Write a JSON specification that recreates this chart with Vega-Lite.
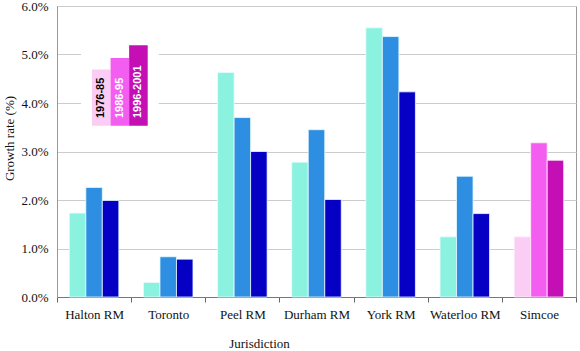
{
  "$schema": "https://vega.github.io/schema/vega-lite/v6.json",
  "width": 519,
  "height": 291,
  "autosize": "none",
  "padding": {"left": 57, "top": 6, "right": 4, "bottom": 54},
  "background": "white",
  "config": {
    "view": {"stroke": "#999999", "strokeWidth": 1},
    "axis": {
      "labelFont": "Liberation Serif, Times New Roman, serif",
      "labelFontSize": 13,
      "labelColor": "#111111",
      "titleFont": "Liberation Serif, Times New Roman, serif",
      "titleFontSize": 13,
      "titleFontWeight": "normal",
      "titleColor": "#111111"
    }
  },
  "datasets": {
    "growth": [
      {"jurisdiction": "Halton RM", "period": "1976-85", "rate": 1.73},
      {"jurisdiction": "Halton RM", "period": "1986-95", "rate": 2.26},
      {"jurisdiction": "Halton RM", "period": "1996-2001", "rate": 1.99},
      {"jurisdiction": "Toronto", "period": "1976-85", "rate": 0.30},
      {"jurisdiction": "Toronto", "period": "1986-95", "rate": 0.83},
      {"jurisdiction": "Toronto", "period": "1996-2001", "rate": 0.78},
      {"jurisdiction": "Peel RM", "period": "1976-85", "rate": 4.63},
      {"jurisdiction": "Peel RM", "period": "1986-95", "rate": 3.70},
      {"jurisdiction": "Peel RM", "period": "1996-2001", "rate": 3.00},
      {"jurisdiction": "Durham RM", "period": "1976-85", "rate": 2.78},
      {"jurisdiction": "Durham RM", "period": "1986-95", "rate": 3.45},
      {"jurisdiction": "Durham RM", "period": "1996-2001", "rate": 2.01},
      {"jurisdiction": "York RM", "period": "1976-85", "rate": 5.55},
      {"jurisdiction": "York RM", "period": "1986-95", "rate": 5.37},
      {"jurisdiction": "York RM", "period": "1996-2001", "rate": 4.23},
      {"jurisdiction": "Waterloo RM", "period": "1976-85", "rate": 1.24},
      {"jurisdiction": "Waterloo RM", "period": "1986-95", "rate": 2.49},
      {"jurisdiction": "Waterloo RM", "period": "1996-2001", "rate": 1.72},
      {"jurisdiction": "Simcoe", "period": "1976-85", "rate": 1.24},
      {"jurisdiction": "Simcoe", "period": "1986-95", "rate": 3.18},
      {"jurisdiction": "Simcoe", "period": "1996-2001", "rate": 2.82}
    ],
    "legend": [
      {"period": "1976-85", "top": 4.69},
      {"period": "1986-95", "top": 4.93},
      {"period": "1996-2001", "top": 5.19}
    ]
  },
  "layer": [
    {
      "data": {"name": "growth"},
      "encoding": {
        "x": {
          "field": "jurisdiction",
          "type": "nominal",
          "sort": null,
          "scale": {"domain": ["Halton RM", "Toronto", "Peel RM", "Durham RM", "York RM", "Waterloo RM", "Simcoe"], "paddingInner": 0, "paddingOuter": 0},
          "axis": {
            "title": "Jurisdiction",
            "labelAngle": 0,
            "labelPadding": 6,
            "tickBand": "extent",
            "tickSize": 5,
            "tickColor": "#666666",
            "domainColor": "#777777",
            "titleX": 202,
            "titleY": 50,
            "titleBaseline": "alphabetic",
            "titleAlign": "center",
            "titleAnchor": null
          }
        },
        "xOffset": {
          "field": "period",
          "type": "nominal",
          "scale": {"domain": ["1976-85", "1986-95", "1996-2001"], "paddingInner": 0, "paddingOuter": 0.745}
        },
        "y": {
          "field": "rate",
          "type": "quantitative",
          "scale": {"domain": [0, 6], "nice": false},
          "axis": {
            "title": "Growth rate (%)",
            "values": [0, 1, 2, 3, 4, 5, 6],
            "labelExpr": "format(datum.value, '.1f') + '%'",
            "labelPadding": 9,
            "ticks": false,
            "domainColor": "#999999",
            "gridColor": "#cccccc",
            "titleX": -48,
            "titleY": 132,
            "titleAngle": 270,
            "titleBaseline": "middle",
            "titleAlign": "center",
            "titleAnchor": null
          }
        }
      },
      "layer": [
        {
          "transform": [{"filter": "datum.jurisdiction != 'Simcoe'"}],
          "mark": {"type": "bar", "stroke": "#e6fbff", "strokeWidth": 0.8},
          "encoding": {
            "color": {
              "field": "period",
              "type": "nominal",
              "scale": {"domain": ["1976-85", "1986-95", "1996-2001"], "range": ["#8bf2e0", "#2e8ee2", "#0600c4"]},
              "legend": null
            }
          }
        },
        {
          "transform": [{"filter": "datum.jurisdiction == 'Simcoe'"}],
          "mark": {"type": "bar", "stroke": "#fff0fc", "strokeWidth": 0.8},
          "encoding": {
            "color": {
              "field": "period",
              "type": "nominal",
              "scale": {"domain": ["1976-85", "1986-95", "1996-2001"], "range": ["#fbcdf5", "#f45ef0", "#c30fb3"]},
              "legend": null
            }
          }
        }
      ],
      "resolve": {"scale": {"color": "independent"}}
    },
    {
      "data": {"name": "legend"},
      "encoding": {
        "x": {
          "field": "period",
          "type": "nominal",
          "sort": null,
          "scale": {"type": "band", "domain": ["1976-85", "1986-95", "1996-2001"], "range": [35, 90.7], "paddingInner": 0, "paddingOuter": 0},
          "axis": null
        }
      },
      "layer": [
        {
          "mark": {"type": "bar", "fill": "white", "stroke": "white", "strokeWidth": 22},
          "encoding": {
            "y": {"datum": 5.15, "type": "quantitative", "axis": null},
            "y2": {"datum": 3.62}
          }
        },
        {
          "mark": {"type": "bar"},
          "encoding": {
            "y": {"field": "top", "type": "quantitative", "axis": null},
            "y2": {"datum": 3.53},
            "color": {
              "field": "period",
              "type": "nominal",
              "scale": {"domain": ["1976-85", "1986-95", "1996-2001"], "range": ["#fbcdf5", "#f45ef0", "#c30fb3"]},
              "legend": null
            }
          }
        },
        {
          "mark": {"type": "text", "angle": 270, "align": "left", "baseline": "middle", "font": "Liberation Sans", "fontWeight": "bold", "fontSize": 11},
          "encoding": {
            "y": {"datum": 3.69, "type": "quantitative", "axis": null},
            "text": {"field": "period"},
            "fill": {"condition": {"test": "datum.period == '1976-85'", "value": "#000000"}, "value": "#ffffff"}
          }
        }
      ]
    }
  ],
  "resolve": {"scale": {"x": "independent", "color": "independent"}, "axis": {"x": "independent", "y": "independent"}}
}
